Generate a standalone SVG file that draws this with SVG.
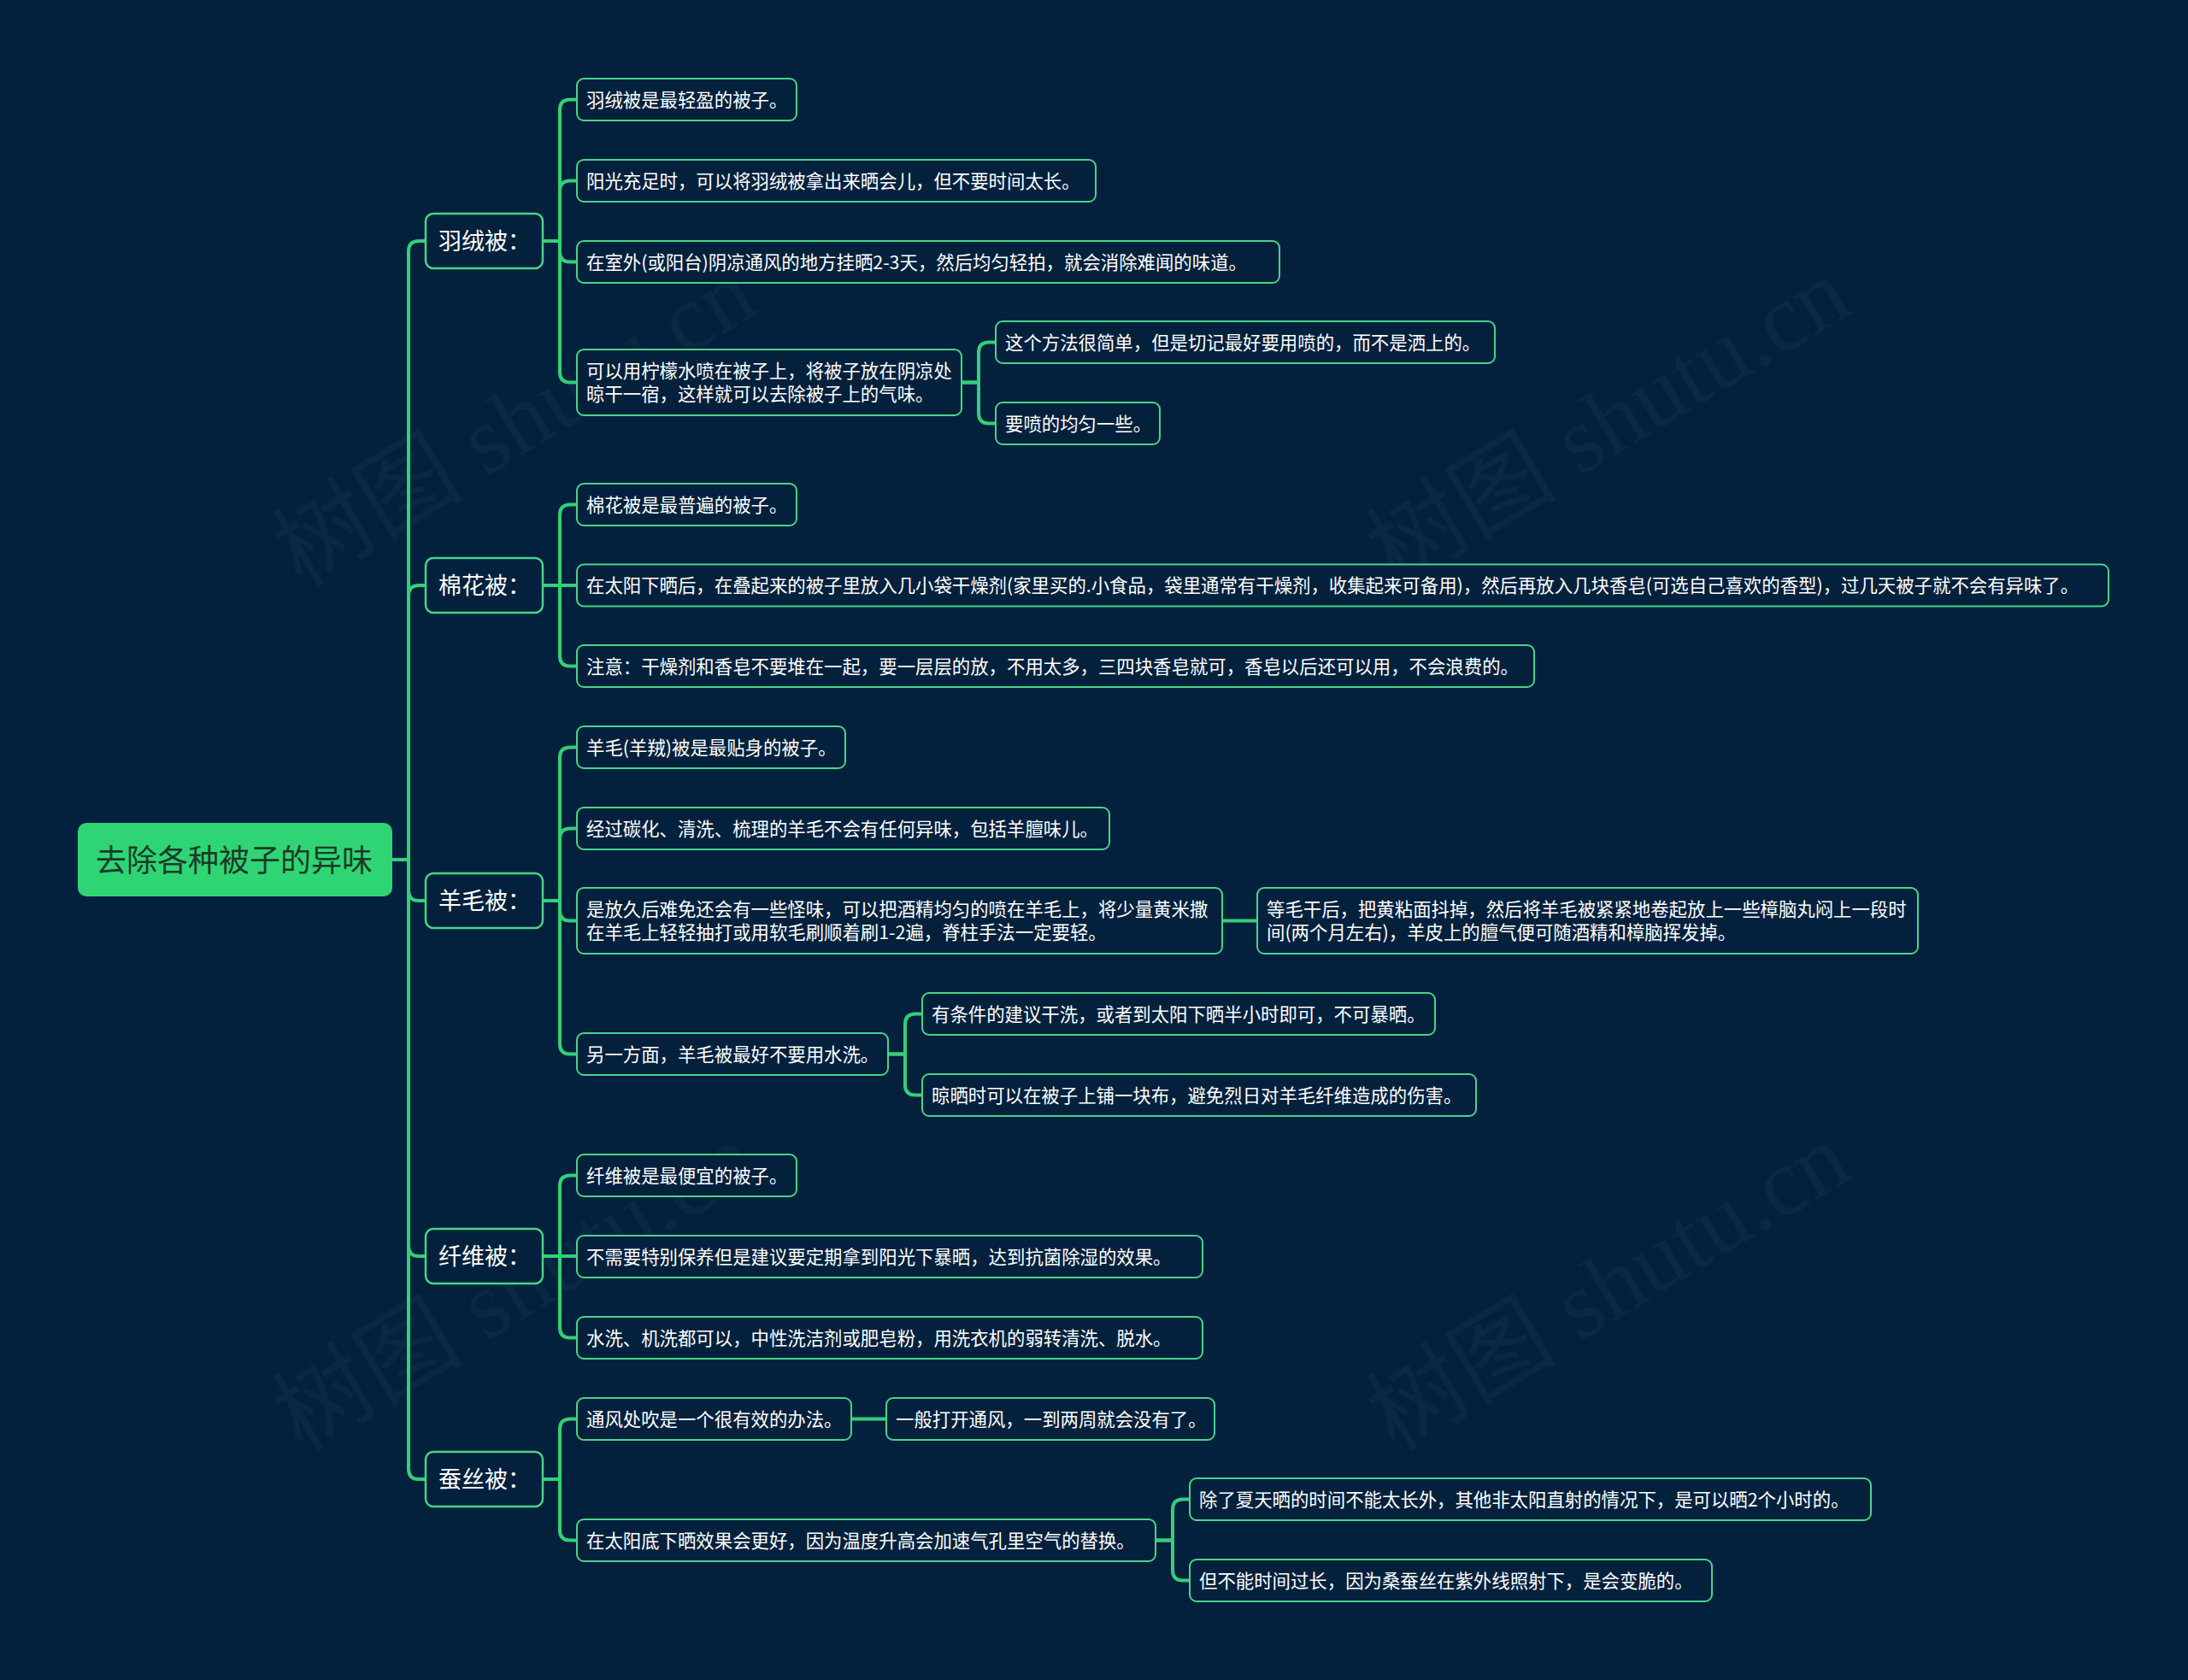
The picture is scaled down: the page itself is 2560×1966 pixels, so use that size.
<svg xmlns="http://www.w3.org/2000/svg" width="2560" height="1966" viewBox="0 0 2560 1966">
<style>
.bg{fill:#03213d}
.wm{font-family:"Liberation Serif","Noto Sans CJK SC",serif;font-size:112px;fill:#ffffff;fill-opacity:0.035}
.conn path{fill:none;stroke:#34cf78;stroke-width:4;stroke-linecap:round}
.leaf rect{fill:#03213d;stroke:#48d488;stroke-width:2}
.leaf text{font-family:"Noto Sans CJK SC","Microsoft YaHei",sans-serif;font-size:21.4px;fill:#ffffff}
.cat rect{fill:#03213d;stroke:#48d488;stroke-width:2.5}
.cat text{font-family:"Noto Sans CJK SC",sans-serif;font-size:27px;fill:#ffffff}
.root rect{fill:#2fd574}
.root text{font-family:"Noto Sans CJK SC",sans-serif;font-size:36px;fill:#1c3a2a}
</style>
<rect class="bg" x="0" y="0" width="2560" height="1966"/>
<g id="watermarks">
<text class="wm" transform="translate(352,688) rotate(-31)">树图 shutu.cn</text>
<text class="wm" transform="translate(1632,688) rotate(-31)">树图 shutu.cn</text>
<text class="wm" transform="translate(352,1700) rotate(-31)">树图 shutu.cn</text>
<text class="wm" transform="translate(1632,1700) rotate(-31)">树图 shutu.cn</text>
</g>
<g id="connectors" class="conn">
<path d="M459,1006 H478 V294 Q478,282 490,282 H498"/>
<path d="M459,1006 H478 V697 Q478,685 490,685 H498"/>
<path d="M459,1006 H478 V1042 Q478,1054 490,1054 H498"/>
<path d="M459,1006 H478 V1458 Q478,1470 490,1470 H498"/>
<path d="M459,1006 H478 V1719 Q478,1731 490,1731 H498"/>
<path d="M635,282 H655 V128.5 Q655,116.5 667,116.5 H675"/>
<path d="M635,282 H655 V223.5 Q655,211.5 667,211.5 H675"/>
<path d="M635,282 H655 V294.5 Q655,306.5 667,306.5 H675"/>
<path d="M635,282 H655 V435.5 Q655,447.5 667,447.5 H675"/>
<path d="M635,685 H655 V602.5 Q655,590.5 667,590.5 H675"/>
<path d="M635,685 H675"/>
<path d="M635,685 H655 V767.5 Q655,779.5 667,779.5 H675"/>
<path d="M635,1054 H655 V886.5 Q655,874.5 667,874.5 H675"/>
<path d="M635,1054 H655 V981.5 Q655,969.5 667,969.5 H675"/>
<path d="M635,1054 H655 V1065.5 Q655,1077.5 667,1077.5 H675"/>
<path d="M635,1054 H655 V1221.5 Q655,1233.5 667,1233.5 H675"/>
<path d="M635,1470 H655 V1387.5 Q655,1375.5 667,1375.5 H675"/>
<path d="M635,1470 H675"/>
<path d="M635,1470 H655 V1553.5 Q655,1565.5 667,1565.5 H675"/>
<path d="M635,1731 H655 V1672.5 Q655,1660.5 667,1660.5 H675"/>
<path d="M635,1731 H655 V1790.5 Q655,1802.5 667,1802.5 H675"/>
<path d="M1125,447.5 H1145 V412.5 Q1145,400.5 1157,400.5 H1165"/>
<path d="M1125,447.5 H1145 V483.5 Q1145,495.5 1157,495.5 H1165"/>
<path d="M1430,1077.5 H1471"/>
<path d="M1039,1233.5 H1059 V1198.5 Q1059,1186.5 1071,1186.5 H1079"/>
<path d="M1039,1233.5 H1059 V1269.5 Q1059,1281.5 1071,1281.5 H1079"/>
<path d="M996,1660.5 H1037"/>
<path d="M1352,1802.5 H1372 V1766.5 Q1372,1754.5 1384,1754.5 H1392"/>
<path d="M1352,1802.5 H1372 V1837.5 Q1372,1849.5 1384,1849.5 H1392"/>
</g>
<g id="root" class="root">
<rect x="91" y="963" width="368" height="86" rx="10"/>
<text x="112" y="1020">去除各种被子的异味</text>
</g>
<g id="cat-yurong" class="cat"><rect x="498" y="250" width="137" height="64" rx="9"/><text x="513" y="292">羽绒被：</text></g>
<g id="cat-mianhua" class="cat"><rect x="498" y="653" width="137" height="64" rx="9"/><text x="513" y="695">棉花被：</text></g>
<g id="cat-yangmao" class="cat"><rect x="498" y="1022" width="137" height="64" rx="9"/><text x="513" y="1064">羊毛被：</text></g>
<g id="cat-xianwei" class="cat"><rect x="498" y="1438" width="137" height="64" rx="9"/><text x="513" y="1480">纤维被：</text></g>
<g id="cat-cansi" class="cat"><rect x="498" y="1699" width="137" height="64" rx="9"/><text x="513" y="1741">蚕丝被：</text></g>

<g id="n1-1" class="leaf"><rect x="675" y="92" width="257" height="49" rx="8"/><text x="686" y="124.5">羽绒被是最轻盈的被子。</text></g>
<g id="n1-2" class="leaf"><rect x="675" y="187" width="607" height="49" rx="8"/><text x="686" y="219.5">阳光充足时，可以将羽绒被拿出来晒会儿，但不要时间太长。</text></g>
<g id="n1-3" class="leaf"><rect x="675" y="282" width="822" height="49" rx="8"/><text x="686" y="314.5">在室外(或阳台)阴凉通风的地方挂晒2-3天，然后均匀轻拍，就会消除难闻的味道。</text></g>
<g id="n1-4" class="leaf"><rect x="675" y="409" width="450" height="77" rx="8"/><text x="686" y="442">可以用柠檬水喷在被子上，将被子放在阴凉处</text><text x="686" y="469">晾干一宿，这样就可以去除被子上的气味。</text></g>
<g id="n1-4-1" class="leaf"><rect x="1165" y="376" width="584" height="49" rx="8"/><text x="1176" y="408.5">这个方法很简单，但是切记最好要用喷的，而不是洒上的。</text></g>
<g id="n1-4-2" class="leaf"><rect x="1165" y="471" width="192" height="49" rx="8"/><text x="1176" y="503.5">要喷的均匀一些。</text></g>

<g id="n2-1" class="leaf"><rect x="675" y="566" width="257" height="49" rx="8"/><text x="686" y="598.5">棉花被是最普遍的被子。</text></g>
<g id="n2-2" class="leaf"><rect x="675" y="660.5" width="1792" height="49" rx="8"/><text x="686" y="693">在太阳下晒后，在叠起来的被子里放入几小袋干燥剂(家里买的.小食品，袋里通常有干燥剂，收集起来可备用)，然后再放入几块香皂(可选自己喜欢的香型)，过几天被子就不会有异味了。</text></g>
<g id="n2-3" class="leaf"><rect x="675" y="755" width="1120" height="49" rx="8"/><text x="686" y="787.5">注意：干燥剂和香皂不要堆在一起，要一层层的放，不用太多，三四块香皂就可，香皂以后还可以用，不会浪费的。</text></g>

<g id="n3-1" class="leaf"><rect x="675" y="850" width="314" height="49" rx="8"/><text x="686" y="882.5">羊毛(羊羢)被是最贴身的被子。</text></g>
<g id="n3-2" class="leaf"><rect x="675" y="945" width="623" height="49" rx="8"/><text x="686" y="977.5">经过碳化、清洗、梳理的羊毛不会有任何异味，包括羊膻味儿。</text></g>
<g id="n3-3" class="leaf"><rect x="675" y="1039" width="755" height="77" rx="8"/><text x="686" y="1072">是放久后难免还会有一些怪味，可以把酒精均匀的喷在羊毛上，将少量黄米撒</text><text x="686" y="1099">在羊毛上轻轻抽打或用软毛刷顺着刷1-2遍，脊柱手法一定要轻。</text></g>
<g id="n3-3-1" class="leaf"><rect x="1471" y="1039" width="773" height="77" rx="8"/><text x="1482" y="1072">等毛干后，把黄粘面抖掉，然后将羊毛被紧紧地卷起放上一些樟脑丸闷上一段时</text><text x="1482" y="1099">间(两个月左右)，羊皮上的膻气便可随酒精和樟脑挥发掉。</text></g>
<g id="n3-4" class="leaf"><rect x="675" y="1209" width="364" height="49" rx="8"/><text x="686" y="1241.5">另一方面，羊毛被最好不要用水洗。</text></g>
<g id="n3-4-1" class="leaf"><rect x="1079" y="1162" width="600" height="49" rx="8"/><text x="1090" y="1194.5">有条件的建议干洗，或者到太阳下晒半小时即可，不可暴晒。</text></g>
<g id="n3-4-2" class="leaf"><rect x="1079" y="1257" width="648" height="49" rx="8"/><text x="1090" y="1289.5">晾晒时可以在被子上铺一块布，避免烈日对羊毛纤维造成的伤害。</text></g>

<g id="n4-1" class="leaf"><rect x="675" y="1351" width="257" height="49" rx="8"/><text x="686" y="1383.5">纤维被是最便宜的被子。</text></g>
<g id="n4-2" class="leaf"><rect x="675" y="1446" width="732" height="49" rx="8"/><text x="686" y="1478.5">不需要特别保养但是建议要定期拿到阳光下暴晒，达到抗菌除湿的效果。</text></g>
<g id="n4-3" class="leaf"><rect x="675" y="1541" width="732" height="49" rx="8"/><text x="686" y="1573.5">水洗、机洗都可以，中性洗洁剂或肥皂粉，用洗衣机的弱转清洗、脱水。</text></g>

<g id="n5-1" class="leaf"><rect x="675" y="1636" width="321" height="49" rx="8"/><text x="686" y="1668.5">通风处吹是一个很有效的办法。</text></g>
<g id="n5-1-1" class="leaf"><rect x="1037" y="1636" width="384" height="49" rx="8"/><text x="1048" y="1668.5">一般打开通风，一到两周就会没有了。</text></g>
<g id="n5-2" class="leaf"><rect x="675" y="1778" width="677" height="49" rx="8"/><text x="686" y="1810.5">在太阳底下晒效果会更好，因为温度升高会加速气孔里空气的替换。</text></g>
<g id="n5-2-1" class="leaf"><rect x="1392" y="1730" width="797" height="49" rx="8"/><text x="1403" y="1762.5">除了夏天晒的时间不能太长外，其他非太阳直射的情况下，是可以晒2个小时的。</text></g>
<g id="n5-2-2" class="leaf"><rect x="1392" y="1825" width="611" height="49" rx="8"/><text x="1403" y="1857.5">但不能时间过长，因为桑蚕丝在紫外线照射下，是会变脆的。</text></g>
</svg>
